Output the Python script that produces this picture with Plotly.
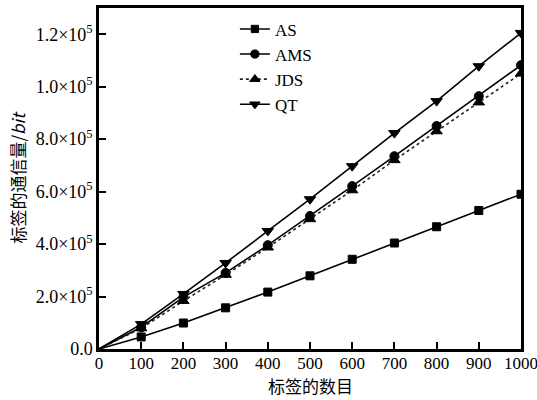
import plotly.graph_objects as go

x_vals = [0, 100, 200, 300, 400, 500, 600, 700, 800, 900, 1000]
as_vals = [0, 4600, 9900, 15700, 21700, 27900, 34200, 40400, 46600, 52800, 59000]
ams_vals = [0, 8300, 19800, 29000, 39600, 50700, 62100, 73500, 85000, 96400, 108200]
jds_vals = [0, 7900, 18300, 28300, 38700, 49500, 60500, 72000, 83000, 94000, 105000]
qt_vals = [0, 9500, 21000, 32800, 45000, 57100, 69700, 82300, 94500, 107800, 120500]

y_tickvals = [0, 20000, 40000, 60000, 80000, 100000, 120000]
y_ticktext = ["0.0", "2.0×10<sup>5</sup>", "4.0×10<sup>5</sup>", "6.0×10<sup>5</sup>",
              "8.0×10<sup>5</sup>", "1.0×10<sup>5</sup>", "1.2×10<sup>5</sup>"]
x_tickvals = [0, 100, 200, 300, 400, 500, 600, 700, 800, 900, 1000]

series = [
    ("AS", as_vals, "square", "solid", "black", 8),
    ("AMS", ams_vals, "circle", "solid", "black", 9),
    ("JDS", jds_vals, "triangle-up", "dot", "#222222", 10),
    ("QT", qt_vals, "triangle-down", "solid", "black", 10),
]

fig = go.Figure()
for name, vals, sym, dash, col, msize in series:
    sizes = [0 if xv == 0 else msize for xv in x_vals]
    fig.add_trace(go.Scatter(
        x=x_vals, y=vals, name=name, mode="lines+markers",
        line=dict(color=col, width=1.6, dash=dash),
        marker=dict(symbol=sym, size=sizes, color="black", opacity=1,
                    line=dict(width=1, color="black")),
    ))

font_family = "Liberation Serif"
cjk = "Noto Sans CJK SC"

fig.update_layout(
    width=537, height=400,
    margin=dict(l=99, r=16, t=8, b=51, autoexpand=False),
    paper_bgcolor="white", plot_bgcolor="white",
    font=dict(family=font_family, size=18, color="black"),
    showlegend=True,
    legend=dict(x=0.322, y=0.99, xanchor="left", yanchor="top",
                bgcolor="rgba(0,0,0,0)", font=dict(size=17, family=font_family),
                itemwidth=30, tracegroupgap=0),
    xaxis=dict(range=[0, 1000], tickvals=x_tickvals, ticks="inside", ticklen=7,
               tickwidth=2, tickcolor="black", showline=True, linewidth=2.5,
               linecolor="black", mirror=True, showgrid=False, zeroline=False,
               ticklabeloverflow="allow", automargin=False, ticklabelstandoff=-3,
               tickfont=dict(size=17, family=font_family)),
    yaxis=dict(range=[0, 130000], tickvals=y_tickvals, ticktext=y_ticktext,
               ticks="inside", ticklen=7, tickwidth=2, tickcolor="black",
               showline=True, linewidth=2.5, linecolor="black", mirror=True,
               showgrid=False, zeroline=False, automargin=False,
               tickfont=dict(size=18, family=font_family),
               title=dict(text="标签的通信量/<i>bit</i>", font=dict(family=cjk, size=17),
                          standoff=6)),
    annotations=[dict(text="标签的数目", xref="paper", yref="paper", x=0.5, y=-0.108,
                      xanchor="center", yanchor="middle", showarrow=False,
                      font=dict(family=cjk, size=17, color="black"))],
)

fig.write_html("out.html")
